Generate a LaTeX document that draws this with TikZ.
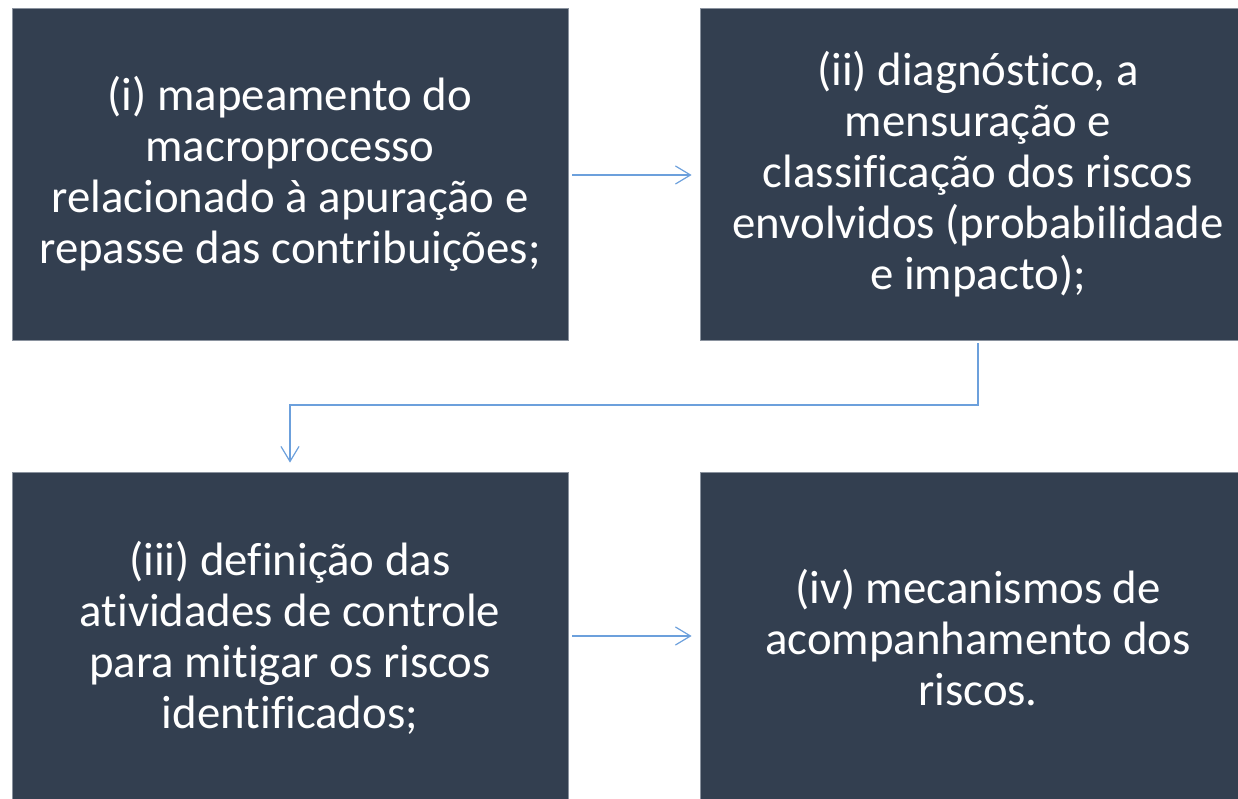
\documentclass[tikz,border=0pt]{standalone}
\usepackage{fontspec}
\setmainfont[Ligatures=NoCommon]{Carlito}
\usetikzlibrary{positioning}
\usetikzlibrary{arrows.meta}
\definecolor{caixa}{HTML}{333F50}
\definecolor{borda}{HTML}{8A929E}
\definecolor{seta}{HTML}{6CA0DC}
\tikzstyle{every etapa} = []
\tikzstyle{etapa} = [rectangle, fill=caixa, draw=borda, line width=0.8pt, inner sep=0pt, text=white, align=center, font=\fontsize{46.8}{51}\selectfont, every etapa]
\tikzstyle{link} = [draw=seta, line width=1.2pt, -{Straight Barb[length=15pt,width=18pt,line width=1.2pt]}]

\begin{document}
\begin{tikzpicture}[x=1pt,y=1pt]
                    \useasboundingbox (0,0) rectangle (1238,799);
                    \tikzstyle{every etapa} = [minimum width=556pt, minimum height=332pt]
                    \node[etapa] (mapeamento) at (290,625)
                        {(i) mapeamento do\\macroprocesso\\relacionado à apuração e\\repasse das contribuições;};
                    \node[etapa] (diagnostico) at (978,625)
                        {(ii) diagnóstico, a\\mensuração e\\classificação dos riscos\\envolvidos (probabilidade\\e impacto);};

                    \node[etapa] (definicao) at (290,161)
                        {(iii) definição das\\atividades de controle\\para mitigar os riscos\\identificados;};
                    \node[etapa] (mecanismos) at (978,161)
                        {(iv) mecanismos de\\acompanhamento dos\\riscos.};

                    \coordinate (desvio) at (290,394);
                    \draw[link] ([xshift=4pt,yshift=-1pt]mapeamento.east) -- ([xshift=-8pt,yshift=-1pt]diagnostico.west);
                    \draw[link] ([yshift=-3pt]diagnostico.south) |- (desvio) -- ([yshift=9pt]definicao.north);
                    \draw[link] ([xshift=4pt,yshift=2pt]definicao.east) -- ([xshift=-8pt,yshift=2pt]mecanismos.west);
                \end{tikzpicture}
\end{document}
